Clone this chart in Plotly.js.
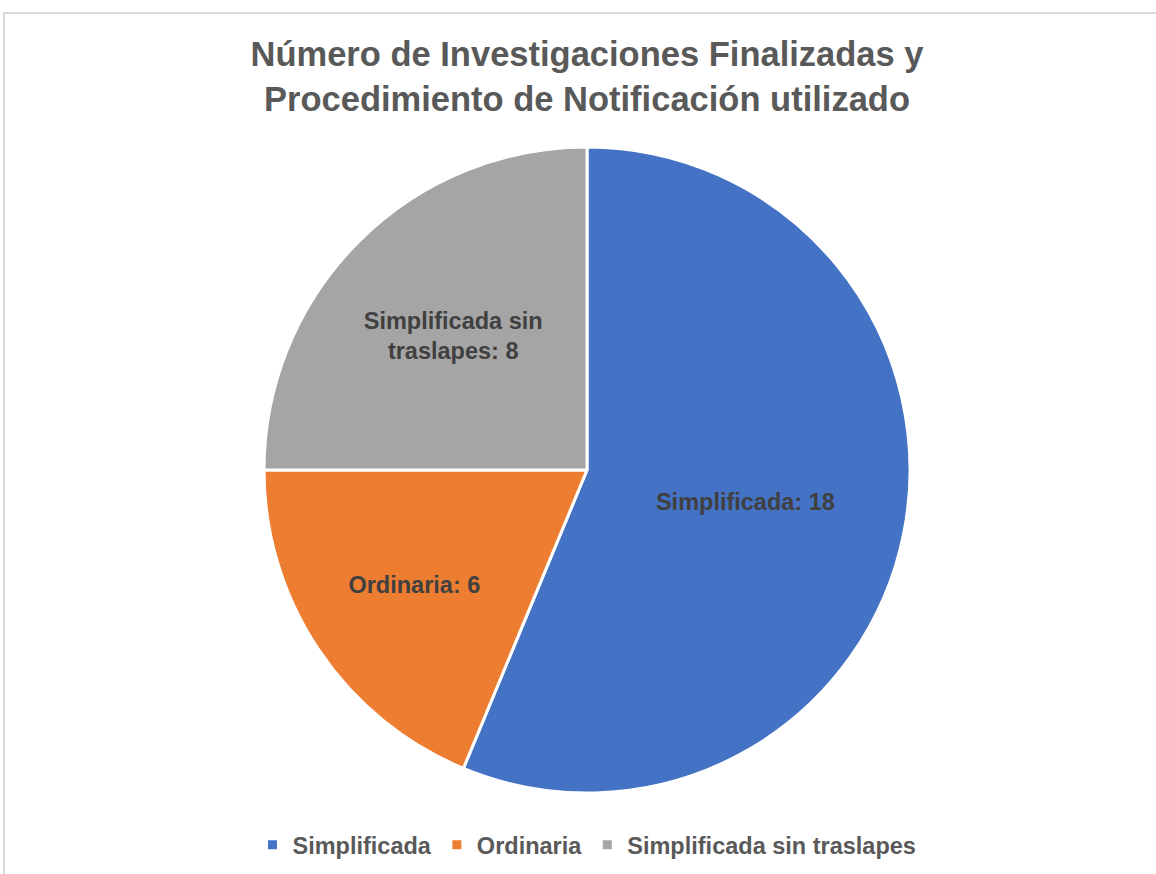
<!DOCTYPE html>
<html>
<head>
<meta charset="utf-8">
<script src="https://cdn.plot.ly/plotly-3.0.1.min.js"></script>
<style>
  html, body { margin: 0; padding: 0; background: #ffffff; overflow: hidden; }
  #wrap { position: relative; width: 1156px; height: 874px; overflow: hidden; }
  #chart { width: 1156px; height: 874px; }
  #frame { position: absolute; left: 3px; top: 12px; width: 1400px; height: 1000px;
           border-left: 2px solid #d9d9d9; border-top: 2px solid #d9d9d9;
           pointer-events: none; box-sizing: border-box; }
</style>
</head>
<body>
<div id="wrap">
  <div id="chart"></div>
  <div id="frame"></div>
</div>
<script>
// Data
const categories = ["Simplificada", "Ordinaria", "Simplificada sin traslapes"];
const values = [18, 6, 8];
const labelText = ["Simplificada", "Ordinaria", "Simplificada sin<br>traslapes"];
const colors = ["#4472c4", "#ed7d31", "#a5a5a5"];
const chartTitle = "Número de Investigaciones Finalizadas y<br>Procedimiento de Notificación utilizado";

const W = 1156, H = 874;
const cx = 587, cy = 470, R = 323;
const FONT = '"Liberation Sans", Arial, Helvetica, sans-serif';

const trace = {
  type: 'pie',
  labels: categories,
  values: values,
  customdata: labelText,
  sort: false,
  direction: 'clockwise',
  rotation: 0,
  marker: { colors: colors, line: { color: '#ffffff', width: 3 } },
  textposition: 'inside',
  insidetextorientation: 'horizontal',
  texttemplate: '<b>%{customdata}: %{value}</b>',
  textfont: { family: FONT, size: 23.5, color: '#404040' },
  hoverinfo: 'label+value',
  domain: {
    x: [(cx - R) / W, (cx + R) / W],
    y: [(H - cy - R) / H, (H - cy + R) / H]
  }
};

const layout = {
  width: W, height: H,
  margin: { l: 0, r: 0, t: 0, b: 0 },
  paper_bgcolor: '#ffffff',
  font: { family: FONT },
  title: {
    text: '<b>' + chartTitle + '</b>',
    font: { family: FONT, size: 34.5, color: '#595959' },
    x: cx / W, xanchor: 'center', xref: 'paper',
    y: 1 - 66 / H, yanchor: 'top', yref: 'container'
  },
  showlegend: true,
  legend: {
    orientation: 'h',
    x: cx / W, xanchor: 'center',
    y: 1 - 845 / H, yanchor: 'middle',
    font: { family: FONT, size: 23.5, color: '#595959', weight: 'bold' },
    traceorder: 'normal'
  }
};

Plotly.newPlot('chart', [trace], layout, { displayModeBar: false, staticPlot: true });
</script>
</body>
</html>
